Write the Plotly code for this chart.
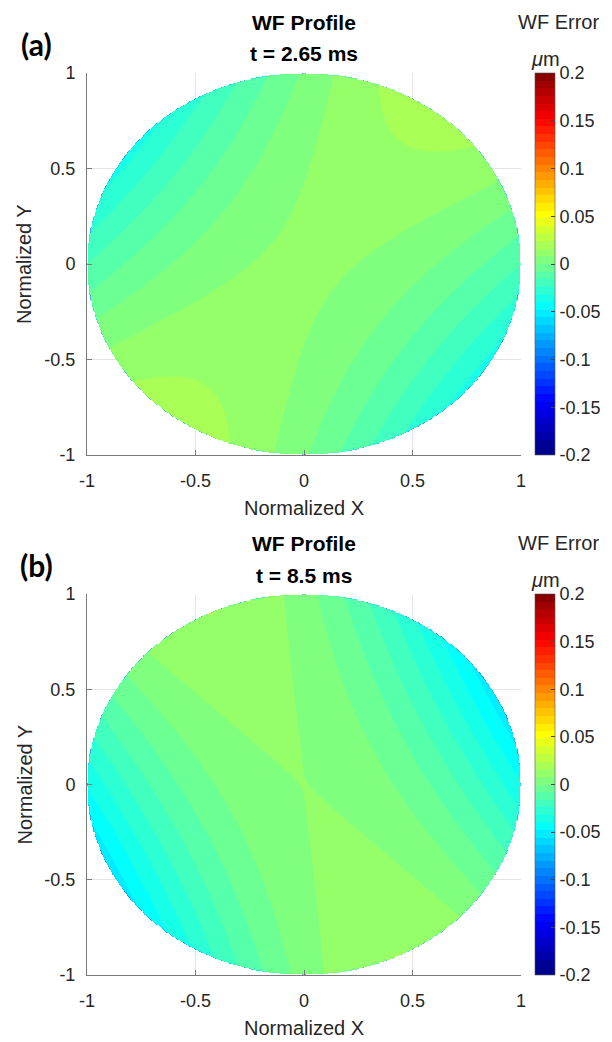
import numpy as np
import plotly.graph_objects as go

panel_labels = ["(a)", "(b)"]
panel_times = ["t = 2.65 ms", "t = 8.5 ms"]
# Wavefront error model coefficients (um): piston, defocus, astigmatism amplitude/axis
piston_um = [0.0095, 0.00802]
defocus_um = [-0.0169, -0.0260]
astig_um = [0.0276, 0.0342]
astig_axis_deg = [54.0, 115.75]

axis_tickvals = [-1, -0.5, 0, 0.5, 1]
axis_ticktext = ["-1", "-0.5", "0", "0.5", "1"]
cbar_tickvals = [-0.2, -0.15, -0.1, -0.05, 0, 0.05, 0.1, 0.15, 0.2]
cbar_ticktext = ["-0.2", "-0.15", "-0.1", "-0.05", "0", "0.05", "0.1", "0.15", "0.2"]
level_start, level_end, level_step = -0.2, 0.2, 0.008

# MATLAB jet, nodes shifted so each filled band takes the colour of its lower level (as contourf)
_nc = int(round((level_end - level_start) / level_step)) + 1
_span = (_nc) * level_step            # plotly fill colour domain width
_off = level_step / 2


def _pos(tm):
    v = level_start + tm * (level_end - level_start) + _off
    return min(1.0, max(0.0, (v - (level_start - _off)) / _span))


jet_nodes = [(0.0, "rgb(0,0,143)"), (0.125, "rgb(0,0,255)"), (0.375, "rgb(0,255,255)"),
             (0.625, "rgb(255,255,0)"), (0.875, "rgb(255,0,0)"), (1.0, "rgb(128,0,0)")]
jet = [[0.0, "rgb(0,0,143)"]] + [[_pos(t), c] for t, c in jet_nodes]
jet[-1][0] = 1.0

W, H = 612, 1042
N = 321
g = np.linspace(-1, 1, N)
X, Y = np.meshgrid(g, g)
R2 = X**2 + Y**2

# pixel layout
px_left, px_right = 87, 521
panels_px = [(73, 455), (594, 975)]


def fy(py):
    return 1 - py / H


def fx(px):
    return px / W


fig = go.Figure()
font_fam = "Liberation Sans, Arial, sans-serif"
annotations = []


def ann(text, px, py, size, family=font_fam, color="#262626", xanchor="center", angle=0):
    return dict(text=text, x=fx(px), y=fy(py), xref="paper", yref="paper",
                xanchor=xanchor, yanchor="middle", textangle=angle, showarrow=False,
                font=dict(family=family, size=size, color=color))


for i in range(2):
    phi = np.deg2rad(astig_axis_deg[i])
    Z = (piston_um[i] + defocus_um[i] * R2
         + astig_um[i] * ((X**2 - Y**2) * np.cos(2 * phi) + 2 * X * Y * np.sin(2 * phi)))
    Z = np.where(R2 <= 1.0, Z, np.nan)
    top, bot = panels_px[i]
    xa = "x" if i == 0 else "x2"
    ya = "y" if i == 0 else "y2"
    fig.add_trace(go.Contour(
        x=g, y=g, z=Z, xaxis=xa, yaxis=ya,
        colorscale=jet, zmin=-0.2, zmax=0.2,
        contours=dict(start=level_start, end=level_end, size=level_step,
                      coloring="fill", showlines=False),
        line=dict(width=0), connectgaps=False,
        colorbar=dict(x=fx(535), xanchor="left", y=fy((top + bot) / 2), yanchor="middle",
                      len=(bot - top) / H, lenmode="fraction", thickness=20,
                      xpad=0, ypad=0,
                      outlinewidth=0.6, outlinecolor="#555555",
                      tickvals=cbar_tickvals, ticktext=cbar_ticktext,
                      ticks="inside", ticklen=4, tickcolor="#444444",
                      tickfont=dict(family=font_fam, size=18, color="#262626")),
        hoverinfo="skip",
    ))
    dy = top - 73
    annotations += [
        ann("<b>" + panel_labels[i] + "</b>", 36, 44 + dy, 30,
            family="Lato, Open Sans, sans-serif", color="black"),
        ann("<b>WF Profile</b>", 304, 22 + dy, 21, color="black"),
        ann("<b>" + panel_times[i] + "</b>", 304, 54 + dy, 21, color="black"),
        ann("WF Error", 601, 22 + dy, 20, xanchor="right"),
        ann("<i>μ</i>m", 545, 59 + dy, 20),
        ann("Normalized X", 304, bot + 53, 20),
        ann("Normalized Y", 24, (top + bot) / 2, 20, angle=-90),
    ]

axis_common = dict(range=[-1, 1], tickvals=axis_tickvals, ticktext=axis_ticktext,
                   showgrid=True, gridcolor="#e4e4e4", gridwidth=1,
                   showline=True, linecolor="#7a7a7a", linewidth=1,
                   ticks="inside", ticklen=5, tickcolor="#7a7a7a", automargin=False,
                   zeroline=False, tickfont=dict(family=font_fam, size=18, color="#262626"))

fig.update_layout(
    width=W, height=H, margin=dict(l=0, r=0, t=0, b=0, pad=0, autoexpand=False),
    paper_bgcolor="white", plot_bgcolor="white", showlegend=False,
    xaxis=dict(domain=[fx(px_left), fx(px_right)], anchor="y", ticklabelstandoff=9, **axis_common),
    yaxis=dict(domain=[fy(panels_px[0][1]), fy(panels_px[0][0])], anchor="x", ticklabelstandoff=7, **axis_common),
    xaxis2=dict(domain=[fx(px_left), fx(px_right)], anchor="y2", ticklabelstandoff=9, **axis_common),
    yaxis2=dict(domain=[fy(panels_px[1][1]), fy(panels_px[1][0])], anchor="x2", ticklabelstandoff=7, **axis_common),
    annotations=annotations,
)

fig.write_html("out.html", config={"responsive": False, "displayModeBar": False},
               post_script="document.body.style.margin='0';document.body.style.overflow='hidden';")
